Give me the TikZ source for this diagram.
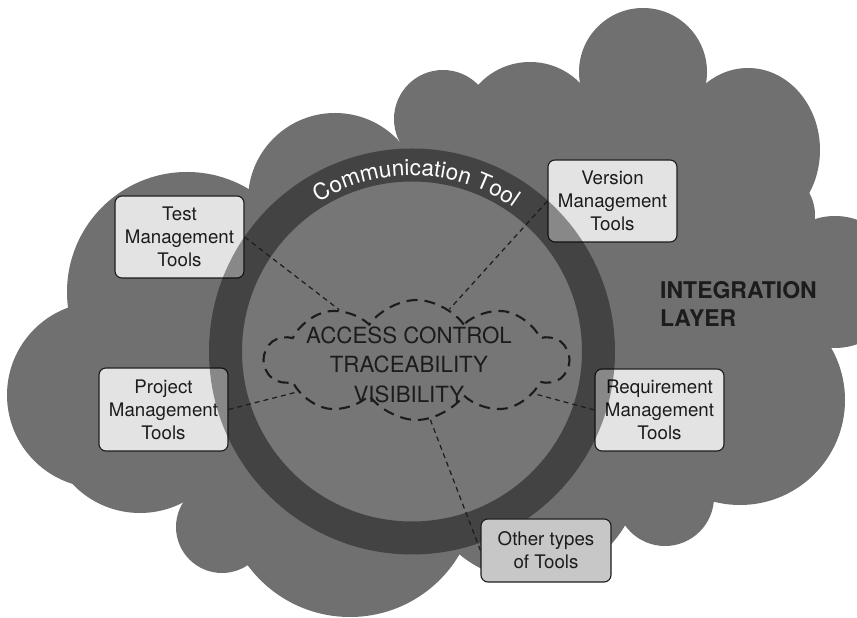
\documentclass[tikz,border=0pt]{standalone}
\usepackage{fontspec}
\setmainfont{TeX Gyre Heros}
\usetikzlibrary{shapes.symbols,decorations.text,calc}
\definecolor{cloudgray}{HTML}{707070}
\definecolor{diskgray}{HTML}{767676}
\definecolor{boxgray}{HTML}{E3E3E3}
\definecolor{othergray}{HTML}{C7C7C7}
\definecolor{inkgray}{HTML}{1C1C1C}
\begin{document}
\begin{tikzpicture}[x=1pt,y=1pt,
  lobe/.style={fill=cloudgray},
  toolbox/.style={draw=inkgray, line width=1.1pt, rounded corners=7pt, fill=boxgray,
    minimum width=129pt, minimum height=82pt, align=center, inner sep=0pt,
    text=inkgray, font=\fontsize{18.7}{23}\selectfont},
  link/.style={draw=inkgray, line width=1.2pt, dash pattern=on 5pt off 4pt},
  corecloud/.style={cloud, cloud puffs=10, cloud puff arc=110, aspect=2.5,
    draw=inkgray, line width=2.1pt, dash pattern=on 11pt off 7pt,
    minimum width=303pt, minimum height=120pt, inner sep=0pt},
  ring/.style={fill=black, fill opacity=0.4, even odd rule},
]
\useasboundingbox (0,0) rectangle (857,618);
\clip (0,0) rectangle (857,618);
\fill[white] (0,0) rectangle (857,618);
% integration layer cloud
\fill[lobe] (100,223) -- (187,326) -- (335,418) -- (443,499) -- (530,486) -- (643,546)
  -- (748,468) -- (770,403) -- (835,336) -- (740,218) -- (665,121) -- (530,148)
  -- (350,128) -- (222,91) -- (140,198) -- cycle;
\fill[lobe] (100,223) circle[radius=93];
\fill[lobe] (187,326) circle[radius=120];
\fill[lobe] (335,418) circle[radius=87];
\fill[lobe] (443,499) circle[radius=49];
\fill[lobe] (530,486) circle[radius=70];
\fill[lobe] (643,546) circle[radius=64];
\fill[lobe] (748,468) ellipse[x radius=72, y radius=82];
\fill[lobe] (770,403) circle[radius=45];
\fill[lobe] (835,336) circle[radius=66];
\fill[lobe] (740,218) circle[radius=105];
\fill[lobe] (665,121) circle[radius=49];
\fill[lobe] (530,148) circle[radius=110];
\fill[lobe] (350,128) circle[radius=127];
\fill[lobe] (222,91) circle[radius=46];
\fill[lobe] (140,198) circle[radius=93];
% communication circle
\coordinate (c) at (412,266.5);
\fill[diskgray] (c) circle[radius=170];
% tool boxes
\node[toolbox] (test) at (179.5,381) {Test\\Management\\Tools};
\node[toolbox] (ver) at (612.5,417) {Version\\Management\\Tools};
\node[toolbox, minimum height=83pt] (proj) at (163.5,208.5) {Project\\Management\\Tools};
\node[toolbox] (req) at (659.5,208) {Requirement\\Management\\Tools};
\fill[ring] (c) circle[radius=203] (c) circle[radius=170];
\node[toolbox, fill=othergray, minimum width=130pt, minimum height=63pt] (oth) at (546,67.5) {Other types\\of Tools};
\path[decorate, decoration={text along path, text align=center,
    text={|\fontsize{22.5}{26}\selectfont\color{white}|Communication Tool}}]
  ($(c)+(126:176)$) arc[start angle=126, end angle=51, radius=176];
% core cloud
\node[corecloud] (acc) at (416.5,258) {};
\node[align=center, inner sep=0pt, text=inkgray, font=\fontsize{22.3}{29.5}\selectfont] (acctext) at (409,253.3) {ACCESS CONTROL\\TRACEABILITY\\VISIBILITY};
% links
\draw[link] (test.east) -- (acc.147);
\draw[link] (ver.west) -- (acc.57);
\draw[link] (proj.east) -- (acc.195);
\draw[link] (req.west) -- (acc.344);
\draw[link] (oth.west) -- (acc.283);
% label
\node[anchor=west, align=left, inner sep=0pt, text=inkgray, font=\bfseries\fontsize{23}{28}\selectfont] (layer) at (660,314) {INTEGRATION\\LAYER};
\end{tikzpicture}
\end{document}
